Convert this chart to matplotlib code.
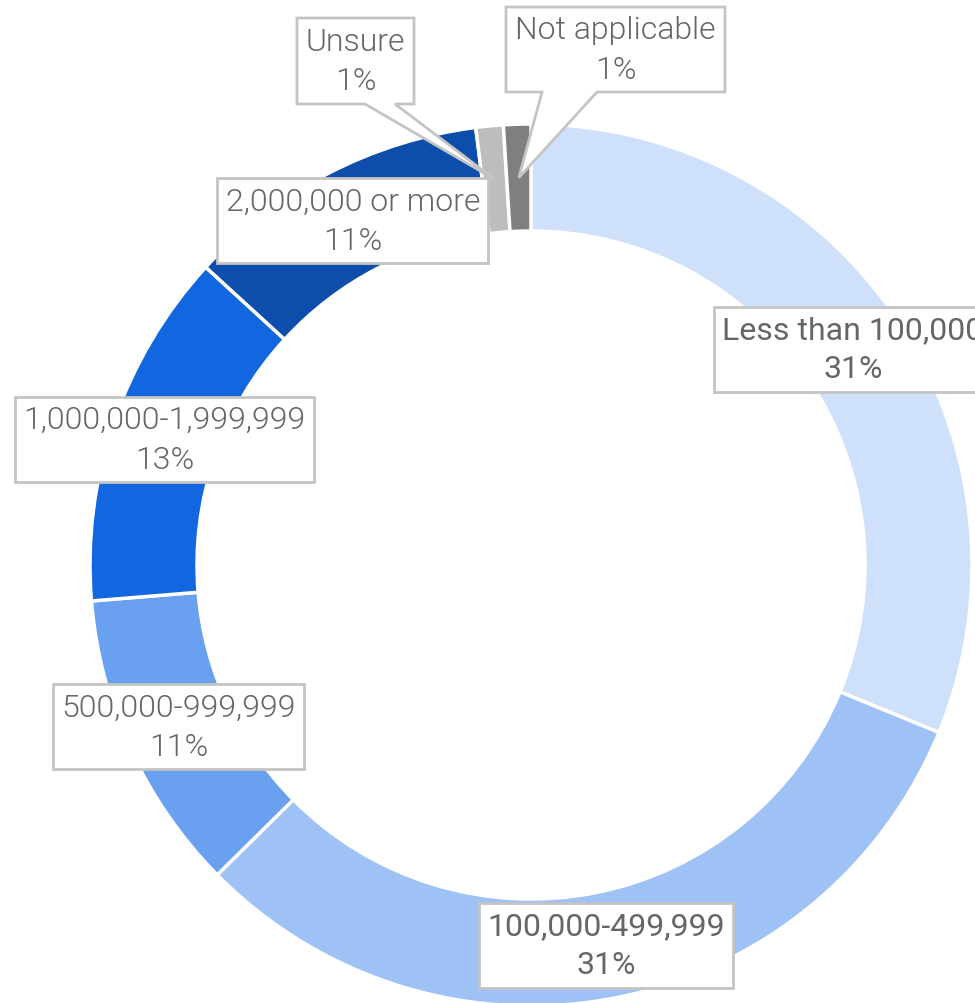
import numpy as np
import matplotlib.pyplot as plt
from matplotlib.patches import Polygon

# -----------------------------
# Data
# -----------------------------
categories = ["Less than 100,000", "100,000-499,999", "500,000-999,999",
              "1,000,000-1,999,999", "2,000,000 or more", "Unsure", "Not applicable"]
shares = [31.2, 31.4, 11.1, 13.1, 11.2, 1.0, 1.0]
colors = ["#cfe0fb", "#9ec2f5", "#69a1f0", "#1266e0", "#0d4dab", "#bdbdbd", "#7f7f7f"]

# -----------------------------
# Layout (pixel coords, y measured from top)
# -----------------------------
W, H = 975, 1004
cx, cy = 531, 566
R, ring = 441, 107
text_color = "#666666"
edge_grey = "#c4c4c4"
# callout boxes for the tiny slices: x0, x1, y_top, y_bottom, tail_left, tail_right
callouts = {
    "Unsure": (297, 414, 19, 105, 365, 395),
    "Not applicable": (506, 725, 8, 93, 542, 597),
}

def fy(y):
    return H - y

fig = plt.figure(figsize=(W / 100, H / 100), dpi=100)
ax = fig.add_axes([0, 0, 1, 1])

wedges, _ = ax.pie(shares, colors=colors, startangle=90, counterclock=False,
                   radius=R, center=(cx, fy(cy)), frame=True,
                   wedgeprops=dict(width=ring, edgecolor="white", linewidth=2.5))
ax.set_xlim(0, W)
ax.set_ylim(0, H)
ax.set_aspect("equal")
ax.axis("off")

font = dict(family="Roboto", fontsize=23, color=text_color, ha="center",
            va="center", linespacing=1.45, zorder=6)

for w, cat, val in zip(wedges, categories, shares):
    mid = np.deg2rad((w.theta1 + w.theta2) / 2)
    label = f"{cat}\n{round(val)}%"
    if cat in callouts:
        x0, x1, yt, yb, tl, tr = callouts[cat]
        r_tip = R - ring / 2
        tip = (cx + r_tip * np.cos(mid), fy(cy) + r_tip * np.sin(mid))
        pts = [(x0, fy(yt)), (x1, fy(yt)), (x1, fy(yb)), (tr, fy(yb)), tip,
               (tl, fy(yb)), (x0, fy(yb))]
        ax.add_patch(Polygon(pts, closed=True, facecolor="white",
                             edgecolor=edge_grey, linewidth=2, zorder=4))
        ax.text((x0 + x1) / 2, fy((yt + yb) / 2), label, weight=300, **font)
    else:
        r_lab = R - ring / 2
        x = cx + r_lab * np.cos(mid)
        y = fy(cy) + r_lab * np.sin(mid)
        weight = "normal" if val > 30 else 300
        ax.text(x, y, label, weight=weight,
                bbox=dict(boxstyle="square,pad=0.26", facecolor="white",
                          edgecolor=edge_grey, linewidth=2), **font)

fig.savefig("out.png", dpi=100)
